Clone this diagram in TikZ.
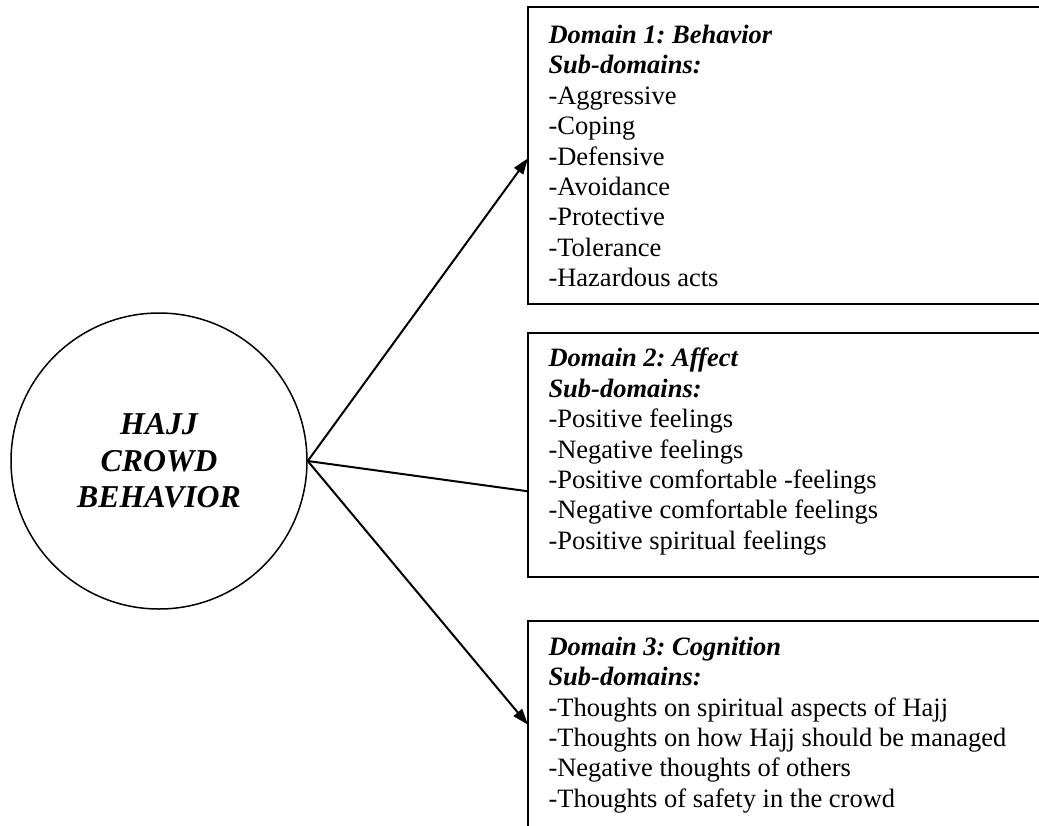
\documentclass[tikz,border=0pt]{standalone}
\usepackage{fontspec}
\setmainfont{Liberation Serif}
\usetikzlibrary{arrows.meta}
\frenchspacing
\tikzset{
  hubnode/.style={circle, draw, line width=1.5pt, minimum size=296pt, inner sep=0pt,
    align=center, font=\fontsize{31.8}{36.6}\selectfont\bfseries\itshape},
  domainbox/.style={minimum width=600pt, inner sep=0pt, outer sep=0pt, anchor=north west},
  boxline/.style={line width=2pt},
  boxtext/.style={inner sep=0pt, anchor=north west, align=left,
    font=\fontsize{26.5}{30.4}\selectfont},
  conn/.style={line width=2pt},
  tipped/.style={conn, -{Triangle[length=16pt,width=11pt]}}
}
\newcommand{\hd}[1]{\textbf{\textit{#1}}}
\begin{document}
\begin{tikzpicture}[x=1pt,y=-1pt]
\useasboundingbox (0,0) rectangle (1039,825);
\clip (0,0) rectangle (1039,825);
\fill[white] (0,0) rectangle (1039,825);

\node[hubnode] (hub) at (159,461) {HAJJ\\CROWD\\BEHAVIOR};

\node[domainbox, minimum height=297pt] (d1) at (528,7.3) {};
\node[domainbox, minimum height=244pt] (d2) at (528,333.3) {};
\node[domainbox, minimum height=208pt] (d3) at (528,620.7) {};
\foreach \b in {d1,d2,d3}
  \draw[boxline] (\b.north east) -- (\b.north west) -- (\b.south west) -- (\b.south east);

\node[boxtext] (t1) at ([xshift=20.3pt,yshift=-16pt]d1.north west)
  {\rule{0pt}{20pt}\hd{Domain 1: Behavior}\\\hd{Sub-domains:}\\-Aggressive\\-Coping\\-Defensive\\-Avoidance\\-Protective\\-Tolerance\\-Hazardous acts};
\node[boxtext] (t2) at ([xshift=20.3pt,yshift=-13.4pt]d2.north west)
  {\rule{0pt}{20pt}\hd{Domain 2: Affect}\\\hd{Sub-domains:}\\-Positive feelings\\-Negative feelings\\-Positive comfortable -feelings\\-Negative comfortable feelings\\-Positive spiritual feelings};
\node[boxtext] (t3) at ([xshift=20.3pt,yshift=-14.3pt]d3.north west)
  {\rule{0pt}{20pt}\hd{Domain 3: Cognition}\\\hd{Sub-domains:}\\-Thoughts on spiritual aspects of Hajj\\-Thoughts on how Hajj should be managed\\-Negative thoughts of others\\-Thoughts of safety in the crowd};

\draw[tipped] (hub.east) -- ([yshift=-2.5pt]d1.west);
\draw[conn] (hub.east) -- ([yshift=-36pt]d2.west);
\draw[tipped] (hub.east) -- (d3.west);
\end{tikzpicture}
\end{document}
